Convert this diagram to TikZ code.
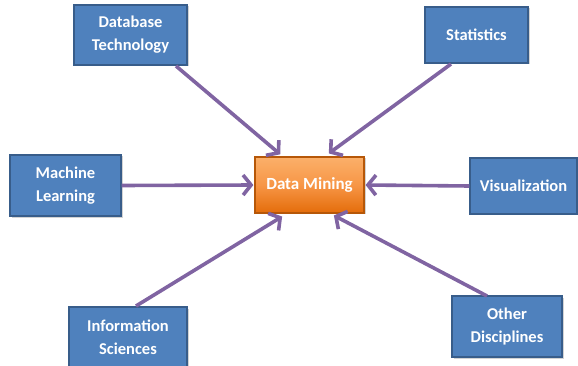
\documentclass[tikz,border=0pt]{standalone}
\usepackage{fontspec}
\setmainfont{Carlito}
\usetikzlibrary{arrows.meta,shadows}
\definecolor{boxblue}{HTML}{4F81BD}
\definecolor{boxborder}{HTML}{385D8A}
\definecolor{dmorange}{HTML}{F79646}
\definecolor{dmlight}{HTML}{FBB06A}
\definecolor{dmdark}{HTML}{E46C0A}
\definecolor{dmborder}{HTML}{B65708}
\definecolor{arrowpurple}{HTML}{8064A2}
\tikzset{
  topic/.style={draw=boxborder, line width=1.4pt, fill=boxblue, text=white,
    font=\bfseries\fontsize{16.5}{23}\selectfont, align=center, inner sep=0pt,
    drop shadow={shadow xshift=1.5pt, shadow yshift=-1.5pt, opacity=0.35}},
  core/.style={draw=dmborder, line width=1.2pt, top color=dmlight, bottom color=dmdark,
    middle color=dmorange, text=white, font=\bfseries\fontsize{17}{23}\selectfont,
    inner sep=0pt, drop shadow={shadow xshift=1.5pt, shadow yshift=-1.5pt, opacity=0.35}},
  feed/.style={draw=arrowpurple, line width=3.6pt,
    -{Straight Barb[length=8pt, width=20pt, line width=3.6pt]}, shorten >=1pt},
}
\begin{document}
\begin{tikzpicture}[x=1pt,y=-1pt]
\useasboundingbox (0,0) rectangle (578,366);
\node[core, minimum width=109pt, minimum height=56pt] (dm) at (309.5,185) {Data Mining};
\node[topic, minimum width=113pt, minimum height=60pt] (db) at (130.5,35) {Database\\Technology};
\node[topic, minimum width=103pt, minimum height=56pt] (st) at (476.5,35) {Statistics};
\node[topic, minimum width=111pt, minimum height=61pt] (ml) at (65.5,185.5) {Machine\\Learning};
\node[topic, minimum width=107pt, minimum height=56pt] (vi) at (523.5,186) {Visualization};
\node[topic, minimum width=118pt, minimum height=60pt] (is) at (128,337) {Information\\Sciences};
\node[topic, minimum width=110pt, minimum height=61pt] (od) at (507,326.5) {Other\\Disciplines};
\coordinate (dbs) at (176,66);
\coordinate (sts) at (451,64);
\coordinate (iss) at (136,306);
\coordinate (ods) at (487,296);
\draw[feed] (dbs) -- (281,155);
\draw[feed] (sts) -- (328,154);
\draw[feed] (ml.east) -- (dm.west);
\draw[feed] (vi.west) -- (dm.east);
\draw[feed] (iss) -- (283,216);
\draw[feed] (ods) -- (333,215);
\end{tikzpicture}
\end{document}
